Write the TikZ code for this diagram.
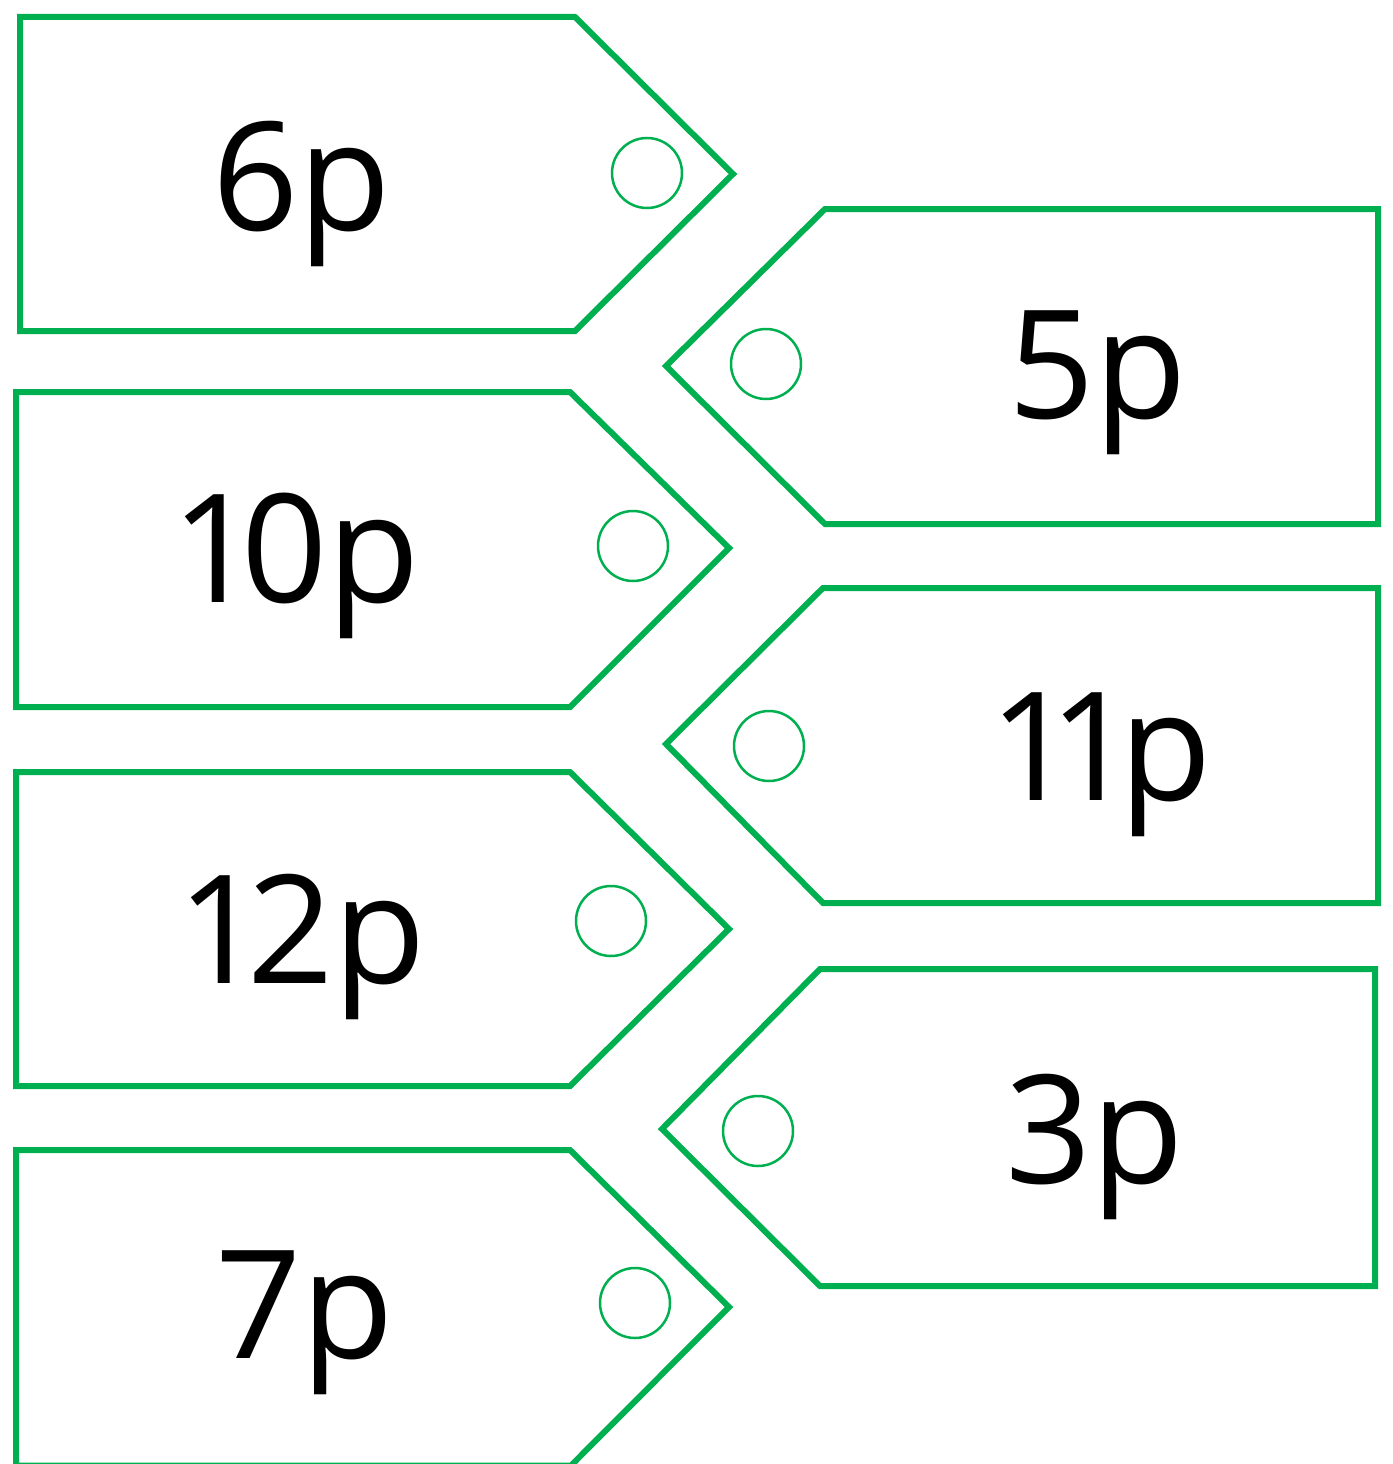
\documentclass[tikz,border=0pt]{standalone}
\usepackage{fontspec}
\setmainfont{Open Sans}[Numbers=Proportional]
\definecolor{taggreen}{HTML}{00B050}
\begin{document}
\begin{tikzpicture}[x=1pt,y=-1pt,
  tagline/.style={draw=taggreen,line width=6pt,line join=miter},
  holeline/.style={draw=taggreen,line width=2.5pt},
  price/.style={anchor=base,inner sep=0pt,font=\fontsize{151}{151}\selectfont}]
\useasboundingbox (0,0) rectangle (1392,1464);
\fill[white] (0,0) rectangle (1392,1464);
% left tags
\draw[tagline] (20,17) -- (575,17) -- (733,174) -- (575,331) -- (20,331) -- cycle;
\draw[tagline] (16,392) -- (570,392) -- (729,548) -- (570,707) -- (16,707) -- cycle;
\draw[tagline] (16,772) -- (570,772) -- (729,929) -- (570,1086) -- (16,1086) -- cycle;
\draw[tagline] (16,1150) -- (570,1150) -- (729,1307) -- (571,1465.5) -- (16,1465.5) -- cycle;
% right tags
\draw[tagline] (1378,209) -- (825,209) -- (666,366) -- (825,524) -- (1378,524) -- cycle;
\draw[tagline] (1378,588) -- (823,588) -- (666,744) -- (823,903) -- (1378,903) -- cycle;
\draw[tagline] (1375,969) -- (820,969) -- (662,1129) -- (820,1286) -- (1375,1286) -- cycle;
% holes
\draw[holeline] (647,173) circle (35);
\draw[holeline] (633,546) circle (35);
\draw[holeline] (611,921) circle (35);
\draw[holeline] (635,1303) circle (35);
\draw[holeline] (766,364) circle (35);
\draw[holeline] (769,746) circle (35);
\draw[holeline] (758,1131) circle (35);
% prices
\node[price] (p6) at (302,230) {6p};
\node[price] (p10) at (301,602) {10p};
\node[price] (p12) at (307,983) {12p};
\node[price] (p7) at (305,1358) {7p};
\node[price] (p5) at (1098,418) {5p};
\node[price] (p11) at (1106,800) {11p};
\node[price] (p3) at (1095,1183) {3p};
\end{tikzpicture}
\end{document}
